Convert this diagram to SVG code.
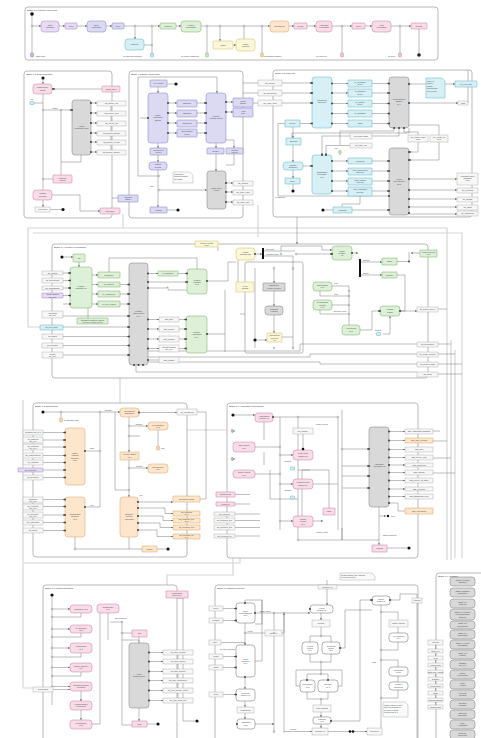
<svg xmlns="http://www.w3.org/2000/svg" width="481" height="738" viewBox="0 0 481 738">
<defs>
<marker id="a" viewBox="0 0 4 4" refX="4" refY="2" markerUnits="userSpaceOnUse" markerWidth="1.8" markerHeight="1.8" orient="auto"><path d="M0,0L4,2L0,4z" fill="#555"/></marker>
<style>
text{font-family:"Liberation Sans",Arial,sans-serif;font-size:2px;fill:#444;text-anchor:middle}
.l{text-anchor:start}
.ti{font-size:2.4px;fill:#333;text-anchor:start}
.fr{fill:#fff;stroke:#8c8c8c;stroke-width:.6}
.e{fill:none;stroke:#6b6b6b;stroke-width:.45}
.ea{fill:none;stroke:#6b6b6b;stroke-width:.45;marker-end:url(#a)}
.o{fill:none;stroke:#d6d6d6;stroke-width:1.2}
.pu{fill:#e7dcf3;stroke:#9b7fc0;stroke-width:.5}
.bp{fill:#dcdaf3;stroke:#7f7bc4;stroke-width:.5}
.gr{fill:#dff0d8;stroke:#6fae5f;stroke-width:.5}
.cy{fill:#d6f0f5;stroke:#5fb0c2;stroke-width:.5}
.ye{fill:#fbf7d8;stroke:#cbbf62;stroke-width:.5}
.or{fill:#fde6cc;stroke:#d8a060;stroke-width:.5}
.pk{fill:#f8dde8;stroke:#c9799b;stroke-width:.5}
.gy{fill:#d9d9d9;stroke:#7a7a7a;stroke-width:.5}
.bx{fill:#f7f7f7;stroke:#a0a0a0;stroke-width:.4}
.wh{fill:#fff;stroke:#666;stroke-width:.5}
.nt{fill:#fafafa;stroke:#999;stroke-width:.4}
.p{fill:#333}
.j{fill:#fff;stroke:#666;stroke-width:.4}
.k{fill:#111}
.bar{fill:#111}
</style>
</defs>
<rect width="481" height="738" fill="#fff"/>

<g id="outer-connectors">
<path class="o" d="M447,228 H28 V327 H40"/>
<path class="o" d="M447,228 V560"/>
<path class="o" d="M33,233 H462 V558"/>
<path class="o" d="M258,205 V237"/>
<path class="o" d="M123,214 V228"/>
<path class="o" d="M120,378 V403"/>
<path class="o" d="M451,340 V560 M455,350 V558"/>
<path class="o" d="M23,400 V688 H33"/>
<path class="o" d="M23,563 H240 V558"/>
<path class="o" d="M233,558 V575 H167 V585"/>
<path class="o" d="M187,430 H227"/>
</g>

<g id="stage-1-0">
<rect class="fr" x="25" y="7" width="413" height="53" rx="3"/>
<text class="ti" x="27" y="11">Stage 1.0 Pipeline Overview</text>
</g>
<g id="stage-1-1">
<rect class="fr" x="24" y="71" width="88" height="147" rx="3"/>
<text class="ti" x="26" y="75">Stage 1.1 Data Ingestion</text>
</g>
<g id="stage-1-2">
<rect class="fr" x="129" y="71" width="114" height="147" rx="3"/>
<text class="ti" x="131" y="75">Stage 1.2 Entity Resolution</text>
</g>
<g id="stage-1-3">
<rect class="fr" x="273" y="70" width="199" height="147" rx="3"/>
<text class="ti" x="275" y="74">Stage 1.3 Indexing</text>
</g>
<g id="stage-1-4">
<rect class="fr" x="52" y="244" width="376" height="134" rx="3"/>
<text class="ti" x="54" y="248">Stage 1.4 Feature Processing</text>
</g>
<g id="stage-1-5">
<rect class="fr" x="33" y="403" width="154" height="154" rx="3"/>
<text class="ti" x="35" y="407">Stage 1.5 Enrichment</text>
</g>
<g id="stage-1-6">
<rect class="fr" x="227" y="403" width="191" height="155" rx="3"/>
<text class="ti" x="229" y="407">Stage 1.6 Aggregate Processing</text>
</g>
<g id="stage-1-7">
<rect class="fr" x="43" y="585" width="134" height="160" rx="3"/>
<text class="ti" x="45" y="589">Stage 1.7 Post Processing</text>
</g>
<g id="stage-1-8">
<rect class="fr" x="215" y="585" width="203" height="160" rx="3"/>
<text class="ti" x="217" y="589">Stage 1.8 Search Pipeline</text>
</g>
<g id="stage-1-9">
<rect class="fr" x="436" y="573" width="60" height="170" rx="3"/>
<text class="ti" x="438" y="577">Stage 1.9 Glossary</text>
</g>
<g id="inner-frame-1-4">
<rect class="fr" x="245" y="262" width="58" height="91" rx="2"/>
</g>

<g id="connectors">
<path class="ea" d="M297,217 V244"/>
<!-- stage 1.0 -->
<path class="e" d="M32,14 V55"/>
<path class="ea" d="M32,26 H41"/><path class="ea" d="M59,26 H65"/><path class="ea" d="M77,26 H87"/><path class="ea" d="M106,26 H112"/>
<path class="ea" d="M124,26 H160"/><path class="ea" d="M176,26 H181"/><path class="ea" d="M201,26 H270"/><path class="ea" d="M289,26 H294"/>
<path class="ea" d="M307,26 H316"/><path class="ea" d="M332,26 H352"/><path class="ea" d="M365,26 H372"/><path class="ea" d="M391,26 H411"/>
<path class="ea" d="M135,26 V39"/><path class="e" d="M144,45 H152"/><path class="e" d="M152,26 V55"/><path class="e" d="M207,26 V55"/>
<path class="ea" d="M220,26 V41"/><path class="ea" d="M233,45 H236"/><path class="e" d="M244,26 V39"/><path class="e" d="M262,26 V55"/>
<path class="e" d="M342,26 V55"/><path class="e" d="M400,26 V55"/><path class="e" d="M419,29 V55"/>
<!-- stage 1.1 -->
<path class="ea" d="M43,78 V84"/><path class="e" d="M43,94 V190"/><path class="ea" d="M102,89 H53"/>
<path class="ea" d="M43,110 H72"/><path class="e" d="M61,110 V162 H81 V155"/><path class="e" d="M34,103 H43"/>
<path class="ea" d="M91,103 H97"/><path class="ea" d="M91,113 H97"/><path class="ea" d="M91,123 H97"/><path class="ea" d="M91,133 H97"/><path class="ea" d="M91,142 H97"/><path class="ea" d="M91,152 H97"/>
<path class="e" d="M111,106 V111 M111,116 V121 M111,126 V131 M111,136 V140 M111,145 V150"/>
<path class="e" d="M61,162 V175"/><path class="e" d="M53,179 H43"/><path class="ea" d="M43,200 V207"/><path class="e" d="M50,209.5 H62"/>
<path class="ea" d="M52,195 H80 V211 H100"/><path class="e" d="M118,198 H112"/>
<!-- stage 1.2 -->
<path class="ea" d="M138,176 V77 H217 V93"/><path class="e" d="M138,176 H159"/><path class="e" d="M175,84 H167"/><path class="ea" d="M158,87 V93"/>
<path class="ea" d="M168,103 H177"/><path class="ea" d="M197,103 H206"/><path class="ea" d="M168,113 H177"/><path class="ea" d="M197,113 H206"/>
<path class="ea" d="M168,123 H177"/><path class="ea" d="M197,123 H206"/><path class="ea" d="M168,133 H177"/><path class="ea" d="M197,133 H206"/>
<path class="ea" d="M226,102 H233"/><path class="ea" d="M226,112 H233"/><path class="e" d="M148,118 H140"/>
<path class="ea" d="M158,143 V148"/><path class="ea" d="M158,155 V162"/><path class="ea" d="M158,170 V207"/>
<path class="ea" d="M216,143 V148"/><path class="ea" d="M224,140 H234 V148"/><path class="ea" d="M216,154 V171"/><path class="e" d="M234,154 V165 H226"/>
<path class="ea" d="M226,183 H233"/><path class="ea" d="M226,192 H233"/><path class="ea" d="M226,202 H233"/>
<path class="ea" d="M159,190 H207"/><path class="e" d="M167,210 H177"/>
<path class="e" d="M243,83 H258 M243,93 H258 M243,103 H258"/>
<!-- stage 1.3 -->
<path class="ea" d="M282,83 H312"/><path class="ea" d="M282,93 H312"/><path class="ea" d="M282,103 H312"/>
<path class="ea" d="M332,83.5 H348"/><path class="ea" d="M372,83.5 H389"/><path class="ea" d="M332,93 H348"/><path class="ea" d="M372,93 H389"/>
<path class="ea" d="M332,103.5 H348"/><path class="ea" d="M372,103.5 H389"/><path class="ea" d="M332,113.5 H348"/><path class="ea" d="M372,113.5 H389"/>
<path class="ea" d="M332,123.5 H348"/><path class="ea" d="M372,123.5 H389"/>
<path class="e" d="M409,84 H426"/><path class="ea" d="M445,84 H455"/><path class="ea" d="M409,103 H458"/><path class="e" d="M468,103 V70"/>
<path class="ea" d="M300,123.5 H312"/><path class="ea" d="M293,127 V138"/><path class="ea" d="M293,145 V162"/><path class="ea" d="M293,170 V178"/><path class="e" d="M293,184 V190"/>
<path class="ea" d="M303,166 H312"/><path class="e" d="M285,123.5 H278 V196 H389"/>
<path class="e" d="M399,128 V136 H372"/><path class="e" d="M394,128 V131 H340 V145"/><path class="ea" d="M350,136 H322 V155"/><path class="ea" d="M350,145.5 H326 V155"/>
<path class="e" d="M404,128 V132 H418 V135"/><path class="e" d="M409,125 H439 V135"/><path class="ea" d="M418,142 V152 H409"/><path class="ea" d="M439,142 V160 H409"/>
<path class="ea" d="M332,161 H348"/><path class="ea" d="M372,161 H389"/><path class="ea" d="M332,171 H348"/><path class="ea" d="M372,171 H389"/>
<path class="ea" d="M332,181 H348"/><path class="ea" d="M372,181 H389"/><path class="ea" d="M332,191 H348"/><path class="ea" d="M372,191 H389"/>
<path class="ea" d="M409,179 H457"/><path class="ea" d="M409,190 H457"/><path class="ea" d="M409,199 H457"/><path class="ea" d="M409,207 H457"/><path class="ea" d="M409,214 H457"/>
<path class="ea" d="M352,210 H389"/><path class="e" d="M325,210 H333"/><path class="e" d="M360,196 V204 H342 V207"/>
<path class="e" d="M292,138 V133 H409 V128"/><path class="e" d="M340,150 V155"/>
<!-- stage 1.4 -->
<path class="ea" d="M64,257 H73"/><path class="ea" d="M79,262 V267"/>
<path class="ea" d="M63,273 H70"/><path class="ea" d="M63,280.5 H70"/><path class="ea" d="M63,288 H70"/><path class="ea" d="M63,295.5 H70"/><path class="e" d="M63,304 H70"/>
<path class="ea" d="M92,275 H98"/><path class="ea" d="M92,284.5 H98"/><path class="ea" d="M92,294 H98"/><path class="ea" d="M92,304 H98"/>
<path class="ea" d="M120,284.5 H129"/><path class="ea" d="M120,294 H129"/><path class="ea" d="M120,304 H129"/><path class="e" d="M109,272 V258 H197 V269"/>
<path class="ea" d="M63,316 H129"/><path class="ea" d="M63,327 H129"/><path class="ea" d="M63,336.5 H129"/><path class="ea" d="M63,345.5 H129"/><path class="ea" d="M63,355 H129"/>
<path class="ea" d="M148,273.5 H158"/><path class="ea" d="M178,273.5 H187"/><path class="ea" d="M148,282 H187"/>
<path class="ea" d="M148,319.5 H159"/><path class="ea" d="M179,319.5 H186"/><path class="ea" d="M148,329 H159"/><path class="ea" d="M179,329 H186"/>
<path class="ea" d="M148,339 H159"/><path class="ea" d="M179,339 H186"/><path class="ea" d="M148,348.5 H159"/><path class="ea" d="M179,348.5 H186"/><path class="e" d="M148,360 H159"/>
<path class="e" d="M148,288 H167 V287 H168 V290 H197 V283"/><path class="e" d="M88,308 V318"/>
<path class="e" d="M207,281 H228 V262 H236"/><path class="e" d="M207,334 H225 V352"/><path class="e" d="M225,334 V290"/>
<path class="e" d="M218,247 V251"/><path class="ea" d="M255,254 H262"/><path class="e" d="M264,251 H295 M264,256 H293 V270"/>
<path class="ea" d="M296,254 H332"/><path class="ea" d="M281,251 V246 H322 V250 H332"/><path class="e" d="M238,260 V282"/>
<path class="e" d="M255,268 V348 M293,268 V348"/><path class="ea" d="M274,268 V283"/><path class="ea" d="M274,291 V306"/><path class="ea" d="M274,315 V333"/><path class="ea" d="M255,340 H267"/>
<path class="e" d="M293,337 H282"/><path class="e" d="M245,314 H240"/>
<path class="ea" d="M352,253 H358"/><path class="ea" d="M361,262 H382"/><path class="ea" d="M361,275 H382"/><path class="e" d="M397,261.5 H409 V252"/>
<path class="e" d="M397,275 H405 V311 H400"/><path class="ea" d="M437,253 H411"/>
<path class="e" d="M332,286 H349 V325"/><path class="e" d="M332,305 H349"/><path class="e" d="M320,291 V296 H349 M320,310 V314 H349"/>
<path class="ea" d="M360,330 H372 V311 H380"/><path class="ea" d="M383,334 H390 V316"/>
<path class="ea" d="M400,311 H417"/><path class="e" d="M148,351 H300 V344 H417"/><path class="e" d="M148,357 H310 V354 H417"/><path class="e" d="M148,362 H320 V364 H417"/><path class="e" d="M136,365 V372 H417"/>
<path class="e" d="M438,309 H447 M438,344 H451 M438,354 H455 M438,364 H462 M438,374 H462"/>
<!-- stage 1.5 -->
<path class="ea" d="M45,412 H120"/><path class="e" d="M61,412 V418"/><path class="e" d="M100,412 V451 H85"/>
<path class="ea" d="M139,412.5 H177"/><path class="ea" d="M129,417 V452"/><path class="ea" d="M129,460 V497"/>
<path class="ea" d="M129,426 H148"/><path class="e" d="M158,430 V446"/><path class="ea" d="M129,468 H148"/><path class="e" d="M129,436 H140"/>
<path class="ea" d="M43,432.5 H65"/><path class="ea" d="M43,440 H65"/><path class="ea" d="M43,447 H65"/><path class="ea" d="M43,455.5 H65"/><path class="ea" d="M43,462.5 H65"/><path class="ea" d="M43,470 H65"/><path class="ea" d="M43,477.5 H65"/>
<path class="ea" d="M43,499.5 H65"/><path class="ea" d="M43,506.5 H65"/><path class="ea" d="M43,515 H65"/><path class="ea" d="M43,522.5 H65"/><path class="ea" d="M43,530.5 H65"/>
<path class="e" d="M85,507 H100 V451"/><path class="e" d="M115,412 V490 H129"/>
<path class="ea" d="M138,502 H173"/><path class="ea" d="M138,508 H165 V513.5 H173"/><path class="ea" d="M138,516 H163 V520.5 H173"/><path class="ea" d="M138,523 H160 V527.5 H173"/><path class="ea" d="M138,530 H157 V536.5 H173"/>
<path class="e" d="M75,537 V549 H142"/><path class="e" d="M129,537 V549"/><path class="e" d="M157,549 H166"/>
<path class="e" d="M200,499 H206 V412 H197"/>
<!-- stage 1.6 -->
<path class="ea" d="M235,415 H255"/><path class="e" d="M273,417 H338"/><path class="e" d="M264,422 V440 M264,452 V465"/>
<path class="e" d="M255,447 H280 M255,474 H280 M280,417 V530"/><path class="e" d="M298,417 V540"/><path class="ea" d="M303,434 V450"/>
<path class="ea" d="M280,455 H293"/><path class="ea" d="M280,484 H293"/><path class="ea" d="M280,521 H293"/><path class="e" d="M313,455 H298 M313,484 H338"/>
<path class="e" d="M338,417 V530 M342,410 V540"/><path class="ea" d="M313,521 H323"/><path class="e" d="M329,508 V470 H298"/>
<path class="ea" d="M342,449 H369"/><path class="ea" d="M342,466 H369"/><path class="ea" d="M342,476 H369"/><path class="ea" d="M342,488 H369"/>
<path class="ea" d="M389,431.5 H405"/><path class="ea" d="M389,440.5 H405"/><path class="ea" d="M389,449.5 H405"/><path class="ea" d="M389,457.5 H405"/><path class="ea" d="M389,465 H405"/>
<path class="ea" d="M389,472.5 H405"/><path class="ea" d="M389,480.5 H405"/><path class="ea" d="M389,489 H405"/><path class="ea" d="M389,496.5 H405"/><path class="e" d="M389,503 H398 V511 H405"/>
<path class="ea" d="M379,507 V545"/><path class="e" d="M387,548 H407"/><path class="ea" d="M379,516 H386"/><path class="e" d="M298,540 H379"/><path class="e" d="M342,540 V528"/>
<path class="e" d="M235,494.5 H250 M235,504 H250 M235,514 H260 M235,520.5 H260 M235,527.5 H260 M235,536 H260"/>
<path class="e" d="M433,431 H440 M433,441 H447 M433,458 H451 M433,473 H455"/>
<path class="e" d="M302,520 V470 H310 M270,499 H298 M270,470 V499"/>
<!-- stage 1.7 -->
<path class="e" d="M52,595 V705"/>
<path class="ea" d="M52,609 H70"/><path class="ea" d="M52,629 H70"/><path class="ea" d="M52,648 H70"/><path class="ea" d="M52,667.5 H70"/><path class="ea" d="M52,686.5 H70"/>
<path class="e" d="M81,613 V617 H52 M81,633 V637 H52 M81,653 V657 H52 M81,672 V676 H52"/>
<path class="ea" d="M81,691 V701"/><path class="ea" d="M81,710 V720"/><path class="e" d="M92,724 H100 V613"/>
<path class="e" d="M108,613 V640 M110,622 H122 V725 H132 M122,640 H139 V643 M122,633 H132 M147,633 H139 V643"/>
<path class="ea" d="M149,652.5 H163"/><path class="ea" d="M149,661.5 H163"/><path class="ea" d="M149,671.5 H163"/><path class="ea" d="M149,680.5 H163"/><path class="ea" d="M149,690.5 H163"/><path class="ea" d="M149,700.5 H163"/>
<path class="e" d="M178,655 V659 M178,664 V669 M178,674 V678 M178,683 V688 M178,693 V698"/>
<path class="ea" d="M139,708 V721"/><path class="e" d="M147,724 H156"/><path class="e" d="M177,598 H183 V721 H195"/>
<path class="ea" d="M53,689.5 H70"/>
<!-- stage 1.8 -->
<path class="e" d="M327,580 V585"/><path class="ea" d="M327,589 V605"/>
<path class="ea" d="M223,608.5 H236"/><path class="ea" d="M223,620.5 H236"/><path class="ea" d="M223,656.5 H236"/><path class="ea" d="M223,667.5 H236"/><path class="ea" d="M223,694.5 H236"/>
<path class="e" d="M221,642.5 H245 V645"/><path class="e" d="M245,600 H262 V624 H255 M245,600 V603"/>
<path class="ea" d="M255,613 H310"/><path class="ea" d="M245,623 V645"/><path class="e" d="M245,633 H265"/><path class="ea" d="M282,633 H284 V613"/>
<path class="e" d="M274,613 V733 M284,613 V733"/><path class="e" d="M255,661 H262 V600"/><path class="ea" d="M245,677 V689"/>
<path class="ea" d="M245,701 V707"/><path class="ea" d="M245,713 V719"/><path class="ea" d="M255,724 H274"/>
<path class="ea" d="M321,613 V620"/><path class="e" d="M321,627 V636 H310 V642 M321,636 H331 V642"/>
<path class="e" d="M310,654 V662 H331 V654 M321,662 V674 H307 V680 M321,674 H328 V680"/>
<path class="e" d="M307,692 V699 H328 V692 M321,699 V705"/><path class="ea" d="M321,712 V717"/><path class="ea" d="M321,724 V728"/>
<path class="ea" d="M284,731.5 H312"/><path class="ea" d="M328,731.5 H367"/><path class="e" d="M300,686 H296 V670 H342 V686 H338"/>
<path class="e" d="M340,648 H345 V610 H372"/><path class="ea" d="M331,721 H360 V600 H372"/>
<path class="e" d="M381,605 V728 M381,612 H398 V620 M398,627 V633 M398,642 V650 H381 M381,660 H398 V667 M398,676 V682 M398,690 V698 H381"/>
<path class="e" d="M390,600 H400 V594 H417 V598"/><path class="e" d="M417,603 V740"/>
</g>

<g id="n-start" class="k"><circle cx="32" cy="14" r="1.8"/></g>
<g id="n-junctions-1-0">
<circle class="j" cx="135" cy="26" r=".9"/><circle class="j" cx="152" cy="26" r=".9"/><circle class="j" cx="207" cy="26" r=".9"/><circle class="j" cx="220" cy="26" r=".9"/>
<circle class="j" cx="244" cy="26" r=".9"/><circle class="j" cx="262" cy="26" r=".9"/><circle class="j" cx="342" cy="26" r=".9"/><circle class="j" cx="400" cy="26" r=".9"/><circle class="j" cx="32" cy="26" r=".9"/><circle class="j" cx="152" cy="45" r=".9"/>
</g>
<g id="n-ingestion"><rect class="pu" x="41" y="21" width="18" height="11" rx="3"/><text x="50" y="26">Data</text><text x="50" y="28.4">Ingestion</text></g>
<g id="n-parse"><rect class="pu" x="65" y="23" width="12" height="6" rx="1"/><text x="71" y="26.7">Parse</text></g>
<g id="n-schema"><rect class="bp" x="87" y="21" width="19" height="11" rx="3"/><text x="96.5" y="26">Entity</text><text x="96.5" y="28.4">Resolution</text></g>
<g id="n-enrich"><rect class="bp" x="112" y="23" width="12" height="6" rx="1"/><text x="118" y="26.7">Index</text></g>
<g id="n-normalize"><rect class="cy" x="125" y="39" width="19" height="11" rx="3"/><text x="134.5" y="45.2">Indexing</text></g>
<g id="n-features"><rect class="gr" x="160" y="23" width="16" height="6" rx="1"/><text x="168" y="26.7">Features</text></g>
<g id="n-feature-eng"><rect class="gr" x="181" y="21" width="20" height="11" rx="3"/><text x="191" y="26">Feature</text><text x="191" y="28.4">Processing</text></g>
<g id="n-model"><rect class="ye" x="213" y="41" width="20" height="8" rx="1"/><text x="223" y="45.7">Model</text></g>
<g id="n-model-training"><rect class="ye" x="236" y="39" width="19" height="12" rx="3"/><text x="245.5" y="44.5">Model</text><text x="245.5" y="46.9">Training</text></g>
<g id="n-enrichment"><rect class="or" x="270" y="21" width="19" height="11" rx="3"/><text x="279.5" y="27.2">Enrichment</text></g>
<g id="n-export"><rect class="pk" x="294" y="23" width="13" height="6" rx="1"/><text x="300.5" y="26.7">Export</text></g>
<g id="n-aggregate"><rect class="pk" x="316" y="21" width="16" height="11" rx="3"/><text x="324" y="26">Aggregate</text><text x="324" y="28.4">Processing</text></g>
<g id="n-serve"><rect class="pk" x="352" y="23" width="13" height="6" rx="1"/><text x="358.5" y="26.7">Serve</text></g>
<g id="n-post"><rect class="pk" x="372" y="21" width="19" height="11" rx="3"/><text x="381.5" y="26">Post</text><text x="381.5" y="28.4">Processing</text></g>
<g id="n-done"><rect class="pk" x="411" y="23" width="16" height="6" rx="1"/><text x="419" y="26.7">Search</text></g>
<g id="n-terminators-1-0">
<rect x="30.5" y="53" width="3" height="4" rx=".8" fill="#c9b3e0" stroke="#8a6fb0" stroke-width=".4"/>
<rect x="150.5" y="53" width="3" height="4" rx=".8" fill="#bfe6ee" stroke="#5fb0c2" stroke-width=".4"/>
<rect x="205.5" y="53" width="3" height="4" rx=".8" fill="#cbe6c1" stroke="#6fae5f" stroke-width=".4"/>
<rect x="260.5" y="53" width="3" height="4" rx=".8" fill="#f7d1a8" stroke="#d8a060" stroke-width=".4"/>
<rect x="340.5" y="53" width="3" height="4" rx=".8" fill="#f1c3d6" stroke="#c9799b" stroke-width=".4"/>
<rect x="398.5" y="53" width="3" height="4" rx=".8" fill="#f1c3d6" stroke="#c9799b" stroke-width=".4"/>
<circle cx="419" cy="55" r="1.8" fill="#222"/>
<text class="l" x="36" y="56.5">data ready</text>
<text class="l" x="123" y="56.5">on indexing complete</text>
<text class="l" x="181" y="56.5">on model registered</text>
<text class="l" x="264" y="56.5">enrichment finished</text>
<text class="l" x="316" y="56.5">on report ok</text>
<text class="l" x="388" y="56.5">on serve</text>
</g>

<!-- stage 1.1 nodes -->
<g id="n11-start" class="k"><circle cx="43" cy="78" r="1.6"/></g>
<g id="n11-load"><rect class="pk" x="33" y="84" width="19" height="10" rx="3"/><text x="42.5" y="88.4">Load Source</text><text x="42.5" y="90.8">Config</text></g>
<g id="n11-config"><rect class="pk" x="102" y="86" width="18" height="6" rx="1"/><text x="111" y="89.6">Config Store</text></g>
<g id="n11-file"><rect class="cy" x="30" y="101.5" width="4" height="3" rx=".6"/><text x="32" y="100">file</text><circle class="p" cx="53" cy="89" r=".9"/></g>
<g id="n11-connector"><rect class="gy" x="72" y="100" width="19" height="55" rx="3"/><text x="81.5" y="126.5">Ingest</text><text x="81.5" y="128.9">Connector Pool</text>
<circle class="p" cx="91" cy="103" r=".9"/><circle class="p" cx="91" cy="113" r=".9"/><circle class="p" cx="91" cy="123" r=".9"/><circle class="p" cx="91" cy="133" r=".9"/><circle class="p" cx="91" cy="142" r=".9"/><circle class="p" cx="91" cy="152" r=".9"/><circle class="p" cx="72" cy="110" r=".9"/></g>
<g id="n11-outputs">
<rect class="bx" x="97" y="101" width="29" height="5"/><text x="111.5" y="104.2">ds_source_api</text>
<rect class="bx" x="97" y="111" width="29" height="5"/><text x="111.5" y="114.2">ds_source_files</text>
<rect class="bx" x="97" y="121" width="29" height="5"/><text x="111.5" y="124.2">ds_source_db</text>
<rect class="bx" x="97" y="131" width="29" height="5"/><text x="111.5" y="134.2">ds_source_stream</text>
<rect class="bx" x="97" y="140" width="29" height="5"/><text x="111.5" y="143.2">ds_source_events</text>
<rect class="bx" x="97" y="150" width="29" height="5"/><text x="111.5" y="153.2">ds_source_archive</text>
</g>
<g id="n11-schema"><rect class="pk" x="53" y="175" width="19" height="8" rx="1"/><text x="62.5" y="178.5">Schema</text><text x="62.5" y="180.9">Check</text></g>
<g id="n11-validate"><rect class="pk" x="33" y="190" width="19" height="10" rx="3"/><text x="42.5" y="194.4">Validate</text><text x="42.5" y="196.8">Records</text></g>
<g id="n11-write"><rect class="bx" x="35" y="207" width="15" height="5"/><text x="42.5" y="210.2">Write Raw</text><circle class="k" cx="63" cy="209.5" r="1.6"/></g>
<g id="n11-raw"><rect class="pk" x="100" y="208" width="20" height="6" rx="1"/><text x="110" y="211.7">Raw Zone</text></g>
<g id="n11-batch"><rect class="bp" x="118" y="195" width="20" height="7" rx=".5"/><text x="128" y="198">Validated</text><text x="128" y="200.4">Batch</text></g>
<g id="n11-j"><circle class="j" cx="43" cy="110" r=".9"/><circle class="j" cx="61" cy="110" r=".9"/><circle class="j" cx="43" cy="179" r=".9"/><text x="55" y="108.5">batch</text></g>

<!-- stage 1.2 nodes -->
<g id="n12-key"><rect class="bp" x="150" y="80" width="17" height="7" rx=".5"/><text x="158.5" y="84.2">Key Config</text><circle class="k" cx="176" cy="84" r="1.6"/></g>
<g id="n12-engine"><rect class="bp" x="148" y="93" width="20" height="50" rx="3"/><text x="158" y="116">Entity</text><text x="158" y="118.4">Resolution</text><text x="158" y="120.8">Engine</text>
<circle class="p" cx="168" cy="103" r=".9"/><circle class="p" cx="168" cy="113" r=".9"/><circle class="p" cx="168" cy="123" r=".9"/><circle class="p" cx="168" cy="133" r=".9"/><circle class="p" cx="148" cy="118" r=".9"/></g>
<g id="n12-graph"><rect class="bp" x="206" y="93" width="20" height="50" rx="3"/><text x="216" y="117">Record</text><text x="216" y="119.4">Linkage Graph</text>
<circle class="p" cx="206" cy="103" r=".9"/><circle class="p" cx="206" cy="113" r=".9"/><circle class="p" cx="206" cy="123" r=".9"/><circle class="p" cx="206" cy="133" r=".9"/><circle class="p" cx="226" cy="102" r=".9"/><circle class="p" cx="226" cy="112" r=".9"/></g>
<g id="n12-mid">
<rect class="bp" x="177" y="100" width="20" height="7" rx=".5"/><text x="187" y="104.2">Blocking</text>
<rect class="bp" x="177" y="110" width="20" height="7" rx=".5"/><text x="187" y="114.2">Matching</text>
<rect class="bp" x="177" y="120" width="20" height="7" rx=".5"/><text x="187" y="124.2">Clustering</text>
<rect class="bp" x="177" y="129" width="20" height="8" rx=".5"/><text x="187" y="132.4">Survivorship</text><text x="187" y="134.8">Rules</text>
</g>
<g id="n12-right">
<rect class="bp" x="233" y="98" width="20" height="9" rx=".5"/><text x="243" y="102">Merge</text><text x="243" y="104.4">Output</text>
<rect class="bp" x="233" y="108" width="20" height="9" rx=".5"/><text x="243" y="112">Audit</text><text x="243" y="114.4">Trail</text>
</g>
<g id="n12-unresolved"><rect class="bp" x="150" y="148" width="17" height="7" rx=".5"/><text x="158.5" y="151">Unresolved</text><text x="158.5" y="153.4">Queue</text></g>
<g id="n12-review"><rect class="bp" x="149" y="162" width="18" height="8" rx="3"/><text x="158" y="165.4">Manual</text><text x="158" y="167.8">Review</text></g>
<g id="n12-golden"><rect class="bp" x="207" y="148" width="17" height="6" rx=".5"/><text x="215.5" y="151.7">Golden</text></g>
<g id="n12-conflicts"><rect class="bp" x="226" y="148" width="17" height="6" rx=".5"/><text x="234.5" y="150.5">Conflict</text><text x="234.5" y="152.9">Report</text></g>
<g id="n12-writer"><rect class="gy" x="207" y="171" width="19" height="38" rx="3"/><text x="216.5" y="189">Entity Store</text><text x="216.5" y="191.4">Writer</text>
<circle class="p" cx="226" cy="183" r=".9"/><circle class="p" cx="226" cy="192" r=".9"/><circle class="p" cx="226" cy="202" r=".9"/></g>
<g id="n12-outs">
<rect class="bx" x="233" y="181" width="20" height="5"/><text x="243" y="184.2">ds_entities</text>
<rect class="bx" x="233" y="190" width="20" height="5"/><text x="243" y="193.2">ds_entity_links</text>
<rect class="bx" x="233" y="200" width="20" height="5"/><text x="243" y="203.2">ds_entity_hist</text>
</g>
<g id="n12-note"><path class="nt" d="M173,172 H190 L193,175 V183 H173 Z"/><text class="l" x="174" y="175">Resolution</text><text class="l" x="174" y="177.4">metrics emitted</text><text class="l" x="174" y="179.8">per batch</text></g>
<g id="n12-publish"><rect class="bp" x="150" y="207" width="17" height="6" rx=".5"/><text x="158.5" y="210.7">Publish</text><circle class="k" cx="178" cy="210" r="1.6"/></g>
<g id="n12-j"><circle class="j" cx="159" cy="190" r=".9"/><circle class="j" cx="159" cy="176" r=".9"/><text x="152" y="187">retry</text></g>

<!-- stage 1.3 nodes -->
<g id="n13-inputs">
<rect class="bx" x="258" y="80" width="24" height="6"/><text x="270" y="83.7">ds_entities</text>
<rect class="bx" x="258" y="90" width="24" height="6"/><text x="270" y="93.7">ds_documents</text>
<rect class="bx" x="258" y="100" width="24" height="6"/><text x="270" y="103.7">ds_entity_links</text>
</g>
<g id="n13-tokenizer"><rect class="cy" x="312" y="77" width="20" height="51" rx="3"/><text x="322" y="101">Document</text><text x="322" y="103.4">Tokenizer</text>
<circle class="p" cx="312" cy="83" r=".9"/><circle class="p" cx="312" cy="93" r=".9"/><circle class="p" cx="312" cy="103" r=".9"/><circle class="p" cx="312" cy="123.5" r=".9"/>
<circle class="p" cx="332" cy="83.5" r=".9"/><circle class="p" cx="332" cy="93" r=".9"/><circle class="p" cx="332" cy="103.5" r=".9"/><circle class="p" cx="332" cy="113.5" r=".9"/><circle class="p" cx="332" cy="123.5" r=".9"/></g>
<g id="n13-mid1">
<rect class="cy" x="348" y="80" width="24" height="7" rx=".3"/><text x="360" y="82.9">tk_unigrams</text><text x="360" y="85.3">v2.1.0</text>
<rect class="cy" x="348" y="89" width="24" height="8" rx=".3"/><text x="360" y="92.4">tk_bigrams</text><text x="360" y="94.8">v2.1.0</text>
<rect class="cy" x="348" y="100" width="24" height="7" rx=".3"/><text x="360" y="102.9">tk_entities</text><text x="360" y="105.3">v2.1.0</text>
<rect class="cy" x="348" y="110" width="24" height="7" rx=".3"/><text x="360" y="114.2">tk_metadata</text>
<rect class="cy" x="348" y="120" width="24" height="7" rx=".3"/><text x="360" y="124.2">Stats</text>
</g>
<g id="n13-segment"><rect class="gy" x="389" y="77" width="20" height="51" rx="3"/><text x="399" y="100">Text Segment</text><text x="399" y="102.4">Builder</text><text x="399" y="104.8">v1.4</text>
<circle class="p" cx="389" cy="83.5" r=".9"/><circle class="p" cx="389" cy="93" r=".9"/><circle class="p" cx="389" cy="103.5" r=".9"/><circle class="p" cx="389" cy="113.5" r=".9"/><circle class="p" cx="389" cy="123.5" r=".9"/>
<circle class="p" cx="409" cy="84" r=".9"/><circle class="p" cx="409" cy="103" r=".9"/><circle class="p" cx="394" cy="128" r=".9"/><circle class="p" cx="399" cy="128" r=".9"/><circle class="p" cx="404" cy="128" r=".9"/></g>
<g id="n13-note"><path class="cy" d="M426,78 H442 L445,81 V98 H426 Z"/><text class="l" x="427" y="81.5">Index is</text><text class="l" x="427" y="84">rebuilt</text><text class="l" x="427" y="86.5">nightly,</text><text class="l" x="427" y="89">incremental</text><text class="l" x="427" y="91.5">every hour</text></g>
<g id="n13-idx"><rect class="cy" x="455" y="81" width="22" height="6" rx=".3"/><text x="466" y="84.7">idx_text_main</text></g>
<g id="n13-alias"><rect class="bx" x="458" y="101" width="10" height="4"/><text x="463" y="103.7">alias</text></g>
<g id="n13-queue"><rect class="cy" x="285" y="120" width="15" height="7" rx=".3"/><text x="292.5" y="124.2">Queue</text></g>
<g id="n13-backlog"><rect class="cy" x="286" y="138" width="15" height="7" rx=".3"/><text x="293.5" y="142.2">Backlog</text></g>
<g id="n13-throttle"><rect class="cy" x="283" y="162" width="20" height="8" rx="3"/><text x="293" y="165.5">Throttle</text><text x="293" y="167.9">Controller</text></g>
<g id="n13-retry"><rect class="cy" x="285" y="178" width="15" height="6" rx=".3"/><text x="292.5" y="181.7">Retry</text><circle class="k" cx="293" cy="191" r="1.6"/><text x="280" y="198">on backlog</text></g>
<g id="n13-embed"><rect class="cy" x="312" y="155" width="20" height="39" rx="3"/><text x="322" y="173">Embedding</text><text x="322" y="175.4">Generator</text><text x="322" y="177.8">v3.0</text>
<circle class="p" cx="332" cy="161" r=".9"/><circle class="p" cx="332" cy="171" r=".9"/><circle class="p" cx="332" cy="181" r=".9"/><circle class="p" cx="332" cy="191" r=".9"/><circle class="p" cx="312" cy="166" r=".9"/><circle class="p" cx="322" cy="155" r=".9"/><circle class="p" cx="326" cy="155" r=".9"/></g>
<g id="n13-mid2">
<rect class="cy" x="348" y="158" width="24" height="6" rx=".3"/><text x="360" y="161.7">Centroids</text>
<rect class="cy" x="348" y="168" width="24" height="7" rx=".3"/><text x="360" y="170.9">emb_documents</text><text x="360" y="173.3">dim 768</text>
<rect class="cy" x="348" y="178" width="24" height="7" rx=".3"/><text x="360" y="180.9">emb_entities</text><text x="360" y="183.3">dim 768</text>
<rect class="cy" x="348" y="187" width="24" height="9" rx=".3"/><text x="360" y="190.4">emb_passages</text><text x="360" y="192.8">dim 384</text>
</g>
<g id="n13-vector"><rect class="gy" x="389" y="148" width="20" height="67" rx="3"/><text x="399" y="180">Vector</text><text x="399" y="182.4">Index Builder</text><text x="399" y="184.8">v2.2</text>
<circle class="p" cx="389" cy="161" r=".9"/><circle class="p" cx="389" cy="171" r=".9"/><circle class="p" cx="389" cy="181" r=".9"/><circle class="p" cx="389" cy="191" r=".9"/><circle class="p" cx="389" cy="196" r=".9"/><circle class="p" cx="389" cy="210" r=".9"/>
<circle class="p" cx="409" cy="152" r=".9"/><circle class="p" cx="409" cy="160" r=".9"/><circle class="p" cx="409" cy="179" r=".9"/><circle class="p" cx="409" cy="190" r=".9"/><circle class="p" cx="409" cy="199" r=".9"/><circle class="p" cx="409" cy="207" r=".9"/><circle class="p" cx="409" cy="213" r=".9"/></g>
<g id="n13-mid3">
<rect class="bx" x="350" y="133" width="22" height="6"/><text x="361" y="136.7">Text index stats</text>
<rect class="bx" x="350" y="143" width="22" height="5"/><text x="361" y="146.2">ds_index_log</text>
</g>
<g id="n13-right">
<rect class="bx" x="408" y="135" width="20" height="7"/><text x="418" y="138">idx_vector_hnsw</text><text x="418" y="140.4">v2.2</text>
<rect class="bx" x="430" y="135" width="18" height="7"/><text x="439" y="138">idx_vector_ivf</text><text x="439" y="140.4">v2.2</text>
</g>
<g id="n13-circle"><circle cx="340" cy="152" r="1.5" fill="#cbe6c1" stroke="#6fae5f" stroke-width=".4"/><text x="336" y="149">cfg</text></g>
<g id="n13-compact"><rect class="cy" x="333" y="207" width="19" height="6" rx=".3"/><text x="342.5" y="210.7">Compact</text><circle class="k" cx="323" cy="210" r="1.6"/></g>
<g id="n13-outs">
<rect class="bx" x="457" y="173" width="21" height="12"/><text x="467.5" y="176.5">Published index</text><text x="467.5" y="178.9">snapshot</text><text x="467.5" y="181.3">v2.2</text>
<rect class="bx" x="457" y="188" width="21" height="5"/><text x="467.5" y="191.2">idx_manifest</text>
<rect class="bx" x="457" y="197" width="21" height="5"/><text x="467.5" y="200.2">idx_shards</text>
<rect class="bx" x="457" y="205" width="21" height="5"/><text x="467.5" y="208.2">idx_stats</text>
<rect class="bx" x="457" y="211" width="21" height="5"/><text x="467.5" y="214.2">idx_changelog</text>
</g>

<!-- stage 1.4 nodes -->
<g id="n14-start"><circle class="k" cx="62" cy="257" r="1.6"/></g>
<g id="n14-init"><rect class="gr" x="73" y="254" width="12" height="8" rx=".5"/><text x="79" y="258.7">Init</text></g>
<g id="n14-cfg"><rect class="ye" x="195" y="241" width="23" height="6" rx=".3"/><text x="206.5" y="243.5">Feature Config</text><text x="206.5" y="245.8">v1.2</text></g>
<g id="n14-inputs">
<rect class="bx" x="42" y="271" width="21" height="4"/><text x="52.5" y="273.7">ds_entities</text>
<rect class="bx" x="42" y="278" width="21" height="5"/><text x="52.5" y="281.2">ds_documents</text>
<rect class="bx" x="42" y="286" width="21" height="4"/><text x="52.5" y="288.7">ds_embeddings</text>
<rect class="pu" x="42" y="293" width="21" height="5" rx=".3"/><text x="52.5" y="295.3">Merge Output</text><text x="52.5" y="297.5">ds_v1.2</text>
<rect class="bx" x="42" y="311" width="21" height="7"/><text x="52.5" y="314">Aggregate</text><text x="52.5" y="316.4">ds_v1.0</text>
<rect class="cy" x="40" y="325" width="23" height="5" rx=".3"/><text x="51.5" y="328.2">idx_text_main</text>
<rect class="bx" x="42" y="334" width="21" height="5"/><text x="52.5" y="337.2">ds_labels</text>
<rect class="bx" x="42" y="343" width="21" height="5"/><text x="52.5" y="346.2">ds_calendar</text>
<rect class="bx" x="42" y="352" width="21" height="6"/><text x="52.5" y="354.5">Holiday</text><text x="52.5" y="356.8">ds_v1.0</text>
</g>
<g id="n14-extractor"><rect class="gr" x="70" y="267" width="22" height="41" rx="3"/><text x="81" y="286.5">Feature</text><text x="81" y="288.9">Extractor v2</text>
<circle class="p" cx="70" cy="273" r=".9"/><circle class="p" cx="70" cy="280.5" r=".9"/><circle class="p" cx="70" cy="288" r=".9"/><circle class="p" cx="70" cy="295.5" r=".9"/><circle class="p" cx="70" cy="304" r=".9"/></g>
<g id="n14-gboxes">
<rect class="gr" x="98" y="272" width="22" height="6" rx=".3"/><text x="109" y="275.7">Normalize</text>
<rect class="gr" x="98" y="282" width="22" height="5" rx=".3"/><text x="109" y="285.2">fe_numeric</text>
<rect class="gr" x="98" y="291" width="22" height="6" rx=".3"/><text x="109" y="294.7">fe_categorical</text>
<rect class="gr" x="98" y="301" width="22" height="6" rx=".3"/><text x="109" y="304.7">fe_text_vectors</text>
</g>
<g id="n14-note"><rect class="gr" x="77" y="318" width="31" height="6" rx=".3"/><text x="92.5" y="320.5">Extracted features cached</text><text x="92.5" y="322.8">for 24h in feature store</text></g>
<g id="n14-store"><rect class="gy" x="129" y="263" width="19" height="102" rx="3"/><text x="138.5" y="312">Feature</text><text x="138.5" y="314.4">Store Writer</text><text x="138.5" y="316.8">v1.4</text>
<circle class="p" cx="129" cy="284.5" r=".9"/><circle class="p" cx="129" cy="294" r=".9"/><circle class="p" cx="129" cy="304" r=".9"/><circle class="p" cx="129" cy="316" r=".9"/><circle class="p" cx="129" cy="327" r=".9"/><circle class="p" cx="129" cy="336.5" r=".9"/><circle class="p" cx="129" cy="345.5" r=".9"/><circle class="p" cx="129" cy="355" r=".9"/>
<circle class="p" cx="148" cy="273.5" r=".9"/><circle class="p" cx="148" cy="282" r=".9"/><circle class="p" cx="148" cy="288" r=".9"/><circle class="p" cx="148" cy="319.5" r=".9"/><circle class="p" cx="148" cy="329" r=".9"/><circle class="p" cx="148" cy="339" r=".9"/><circle class="p" cx="148" cy="348.5" r=".9"/><circle class="p" cx="148" cy="360" r=".9"/>
<circle class="p" cx="134" cy="365" r=".9"/><circle class="p" cx="138.5" cy="365" r=".9"/><circle class="p" cx="143" cy="365" r=".9"/></g>
<g id="n14-fs"><rect class="gr" x="158" y="271" width="20" height="5" rx=".3"/><text x="168" y="274.2">fs_snapshot</text></g>
<g id="n14-validator"><rect class="gr" x="187" y="269" width="20" height="25" rx="3"/><text x="197" y="280.5">Feature</text><text x="197" y="282.9">Validator</text><text x="197" y="285.3">v1.1</text>
<circle class="p" cx="187" cy="273.5" r=".9"/><circle class="p" cx="187" cy="282" r=".9"/><circle class="p" cx="207" cy="281" r=".9"/></g>
<g id="n14-aggregator"><rect class="gr" x="186" y="316" width="21" height="37" rx="3"/><text x="196.5" y="333">Feature</text><text x="196.5" y="335.4">Aggregator</text><text x="196.5" y="337.8">v1.0</text>
<circle class="p" cx="186" cy="319.5" r=".9"/><circle class="p" cx="186" cy="329" r=".9"/><circle class="p" cx="186" cy="339" r=".9"/><circle class="p" cx="186" cy="348.5" r=".9"/><circle class="p" cx="207" cy="334" r=".9"/></g>
<g id="n14-aboxes">
<rect class="bx" x="159" y="317" width="20" height="5"/><text x="169" y="320.2">agg_daily</text>
<rect class="bx" x="159" y="326" width="20" height="6"/><text x="169" y="329.7">agg_weekly</text>
<rect class="bx" x="159" y="336" width="20" height="6"/><text x="169" y="339.7">agg_monthly</text>
<rect class="bx" x="159" y="345" width="20" height="7"/><text x="169" y="347.9">Rolling window</text><text x="169" y="350.3">ds_v1.0</text>
<rect class="bx" x="159" y="357" width="20" height="6"/><text x="169" y="360.7">agg_lifetime</text>
</g>
<g id="n14-training"><rect class="ye" x="236" y="248" width="19" height="12" rx="3"/><text x="245.5" y="253">Model</text><text x="245.5" y="255.4">Training Job</text><circle class="p" cx="255" cy="254" r=".9"/></g>
<g id="n14-hp"><rect class="ye" x="236" y="282" width="18" height="10" rx=".5"/><text x="245" y="286.5">Hyper</text><text x="245" y="288.9">params</text></g>
<g id="n14-fork1"><rect class="bar" x="262" y="248" width="2" height="11"/><text class="l" x="266" y="250">train split</text><text class="l" x="266" y="255">validation split</text></g>
<g id="n14-train"><rect class="gy" x="263" y="283" width="22" height="8" rx=".5"/><text x="274" y="286.4">Distributed</text><text x="274" y="288.8">Trainer x8 GPU</text></g>
<g id="n14-eval"><rect class="gy" x="265" y="306" width="18" height="9" rx="3"/><text x="274" y="309.8">Evaluate</text><text x="274" y="312.2">Holdout</text></g>
<g id="n14-ckpt"><rect class="ye" x="267" y="333" width="15" height="9" rx=".5"/><text x="274.5" y="336.3">Checkpoint</text><text x="274.5" y="338.7">Selector</text><text x="274.5" y="341.1">v1</text><circle class="k" cx="255" cy="340" r="1.6"/></g>
<g id="n14-j1"><circle class="j" cx="274" cy="268" r=".9"/><circle class="j" cx="293" cy="268" r=".9"/><circle class="j" cx="293" cy="348" r=".9"/><circle class="j" cx="274" cy="348" r=".9"/><circle class="j" cx="281" cy="254" r=".9"/><circle class="j" cx="296" cy="254" r=".9"/></g>
<g id="n14-registry"><rect class="gr" x="332" y="246" width="20" height="14" rx="3"/><text x="342" y="251.5">Model</text><text x="342" y="253.9">Registry</text><text x="342" y="256.3">v2</text><circle class="p" cx="352" cy="253" r=".9"/><circle class="p" cx="332" cy="254" r=".9"/></g>
<g id="n14-fork2"><rect class="bar" x="359" y="259" width="2" height="18"/><text class="l" x="363" y="261">staging</text><text class="l" x="363" y="274">canary</text></g>
<g id="n14-stage"><rect class="gr" x="382" y="258" width="15" height="7" rx=".3"/><text x="389.5" y="262.2">Stage</text></g>
<g id="n14-canary"><rect class="gr" x="382" y="272" width="15" height="6" rx=".3"/><text x="389.5" y="275.7">Promote</text><circle class="p" cx="409" cy="261.5" r=".9"/></g>
<g id="n14-endpoint"><rect class="gr" x="420" y="250" width="17" height="7" rx=".3"/><text x="428.5" y="253">Model Serving</text><text x="428.5" y="255.4">v2.0</text></g>
<g id="n14-drift"><rect class="gr" x="313" y="282" width="19" height="9" rx="3"/><text x="322.5" y="285.8">Drift Monitor</text><text x="322.5" y="288.2">v1.0</text></g>
<g id="n14-perf"><rect class="gr" x="313" y="300" width="19" height="10" rx="3"/><text x="322.5" y="303.4">Performance</text><text x="322.5" y="305.8">Monitor</text><text x="322.5" y="308.2">v1.0</text></g>
<g id="n14-alert"><rect class="gr" x="342" y="325" width="18" height="10" rx="3"/><text x="351" y="329.4">Alert Router</text><text x="351" y="331.8">v1.0</text></g>
<g id="n14-retrain"><rect class="gr" x="380" y="306" width="20" height="10" rx="3"/><text x="390" y="310.4">Retrain</text><text x="390" y="312.8">Trigger</text><circle class="p" cx="380" cy="311" r=".9"/><circle class="p" cx="400" cy="311" r=".9"/></g>
<g id="n14-icon"><rect class="cy" x="376.5" y="332.5" width="4" height="3" rx=".6"/><text x="378" y="330.5">manual</text></g>
<g id="n14-lbl"><text x="336" y="284">drift</text><text x="336" y="295">perf</text><text x="340" y="312">accuracy drop</text><circle class="j" cx="349" cy="291" r=".8"/><circle class="j" cx="349" cy="296" r=".8"/><circle class="j" cx="349" cy="305" r=".8"/><circle class="j" cx="349" cy="314" r=".8"/></g>
<g id="n14-outs">
<rect class="bx" x="417" y="307" width="21" height="5"/><text x="427.5" y="310.2">ds_retrain_queue</text>
<rect class="bx" x="417" y="342" width="21" height="5"/><text x="427.5" y="345.2">ds_predictions</text>
<rect class="bx" x="417" y="352" width="21" height="5"/><text x="427.5" y="355.2">ds_model_metrics</text>
<rect class="bx" x="417" y="362" width="21" height="5"/><text x="427.5" y="365.2">ds_feature_stats</text>
<rect class="bx" x="417" y="372" width="21" height="5"/><text x="427.5" y="375.2">ds_alerts</text>
</g>

<!-- stage 1.5 nodes -->
<g id="n15-start"><circle class="k" cx="43" cy="412" r="1.6"/><circle class="j" cx="61" cy="412" r=".9"/><circle class="j" cx="100" cy="412" r=".9"/>
<rect x="59.5" y="418" width="3" height="4" rx=".8" fill="#f7d1a8" stroke="#d8a060" stroke-width=".4"/><text class="l" x="64" y="421">on dispatch start</text><text x="108" y="410.5">records</text></g>
<g id="n15-dispatch"><rect class="or" x="120" y="408" width="19" height="9" rx="3"/><text x="129.5" y="411.8">Enrichment</text><text x="129.5" y="414.2">Dispatcher</text><circle class="p" cx="139" cy="412.5" r=".9"/></g>
<g id="n15-ds"><rect class="bx" x="177" y="409" width="20" height="6"/><text x="187" y="412.7">ds_enrichment</text></g>
<g id="n15-geo"><rect class="or" x="148" y="422" width="20" height="8" rx="3"/><text x="158" y="425.5">Geo Enricher</text><text x="158" y="427.9">v1.2</text>
<rect x="156.5" y="446" width="3" height="4" rx=".8" fill="#f7d1a8" stroke="#d8a060" stroke-width=".4"/><text class="l" x="161" y="449">skip</text><text x="139" y="424.5">location</text></g>
<g id="n15-lookup"><rect class="or" x="120" y="452" width="19" height="8" rx=".5"/><text x="129.5" y="455.4">Lookup Tables</text><text x="129.5" y="457.8">v2.0</text></g>
<g id="n15-text"><rect class="or" x="148" y="464" width="20" height="9" rx="3"/><text x="158" y="467.8">Text Enricher</text><text x="158" y="470.2">v1.0</text><text x="139" y="466.5">content</text></g>
<g id="n15-j"><circle class="j" cx="129" cy="426" r=".9"/><circle class="j" cx="129" cy="436" r=".9"/><circle class="j" cx="129" cy="468" r=".9"/><circle class="j" cx="129" cy="490" r=".9"/><circle class="j" cx="100" cy="451" r=".9"/><text x="92" y="449">attrs</text><text x="92" y="505.5">rels</text></g>
<g id="n15-inA">
<rect class="bx" x="23" y="430" width="20" height="5"/><text x="33" y="433.2">Customer ds_v1.0</text>
<rect class="bx" x="23" y="437" width="20" height="6"/><text x="33" y="439.5">ds_address</text><text x="33" y="441.8">ds_v1.0</text>
<rect class="bx" x="23" y="444" width="20" height="6"/><text x="33" y="446.5">ds_products</text><text x="33" y="448.8">ds_v1.0</text>
<rect class="bx" x="23" y="453" width="20" height="5"/><text x="33" y="456.2">ds_organizations</text>
<rect class="bx" x="23" y="460" width="20" height="5"/><text x="33" y="463.2">ds_contacts</text>
<rect class="pu" x="18" y="468" width="25" height="4" rx=".3"/><text x="30.5" y="470.7">ds_reference</text>
<rect class="bx" x="23" y="475" width="20" height="5"/><text x="33" y="478.2">ds_taxonomy</text>
</g>
<g id="n15-attr"><rect class="or" x="65" y="428" width="20" height="57" rx="3"/><text x="75" y="454">Entity</text><text x="75" y="456.4">Attribute</text><text x="75" y="458.8">Enricher</text><text x="75" y="461.2">v2.1</text>
<circle class="p" cx="65" cy="432.5" r=".9"/><circle class="p" cx="65" cy="440" r=".9"/><circle class="p" cx="65" cy="447" r=".9"/><circle class="p" cx="65" cy="455.5" r=".9"/><circle class="p" cx="65" cy="462.5" r=".9"/><circle class="p" cx="65" cy="470" r=".9"/><circle class="p" cx="65" cy="477.5" r=".9"/><circle class="p" cx="85" cy="451" r=".9"/></g>
<g id="n15-inB">
<rect class="bx" x="23" y="497" width="20" height="6"/><text x="33" y="499.5">Customer</text><text x="33" y="501.8">ds_v1.0</text>
<rect class="bx" x="23" y="504" width="20" height="6"/><text x="33" y="506.5">ds_relations</text><text x="33" y="508.8">ds_v1.0</text>
<rect class="bx" x="23" y="512" width="20" height="6"/><text x="33" y="514.5">ds_hierarchy</text><text x="33" y="516.8">ds_v1.0</text>
<rect class="bx" x="23" y="520" width="20" height="5"/><text x="33" y="523.2">ds_ownership</text>
<rect class="bx" x="23" y="528" width="20" height="5"/><text x="33" y="531.2">ds_graph</text>
</g>
<g id="n15-rel"><rect class="or" x="65" y="497" width="20" height="40" rx="3"/><text x="75" y="515">Relationship</text><text x="75" y="517.4">Enricher</text><text x="75" y="519.8">v1.3</text>
<circle class="p" cx="65" cy="499.5" r=".9"/><circle class="p" cx="65" cy="506.5" r=".9"/><circle class="p" cx="65" cy="515" r=".9"/><circle class="p" cx="65" cy="522.5" r=".9"/><circle class="p" cx="65" cy="530.5" r=".9"/><circle class="p" cx="85" cy="507" r=".9"/></g>
<g id="n15-assembler"><rect class="or" x="120" y="497" width="18" height="40" rx="3"/><text x="129" y="515">Enriched</text><text x="129" y="517.4">Record</text><text x="129" y="519.8">Assembler</text>
<circle class="p" cx="138" cy="502" r=".9"/><circle class="p" cx="138" cy="508" r=".9"/><circle class="p" cx="138" cy="516" r=".9"/><circle class="p" cx="138" cy="523" r=".9"/><circle class="p" cx="138" cy="530" r=".9"/><text x="141" y="496">out</text></g>
<g id="n15-outs">
<rect class="or" x="173" y="496" width="27" height="6" rx=".3"/><text x="186.5" y="499.7">Enriched records</text>
<rect class="or" x="173" y="511" width="27" height="5" rx=".3"/><text x="186.5" y="512.9">ds_enriched</text><text x="186.5" y="515">v1.0</text>
<rect class="or" x="173" y="518" width="27" height="5" rx=".3"/><text x="186.5" y="519.9">ds_enriched_geo</text><text x="186.5" y="522">v1.0</text>
<rect class="or" x="173" y="525" width="27" height="5" rx=".3"/><text x="186.5" y="528.2">ds_enriched_text</text>
<rect class="or" x="173" y="534" width="27" height="5" rx=".3"/><text x="186.5" y="535.9">ds_enriched_rel</text><text x="186.5" y="538">v1.0</text>
</g>
<g id="n15-output"><rect class="or" x="142" y="546" width="15" height="6" rx=".3"/><text x="149.5" y="549.7">Output</text><circle class="k" cx="168" cy="549" r="1.6"/><circle class="j" cx="75" cy="549" r=".9"/></g>

<!-- stage 1.6 nodes -->
<g id="n16-start"><circle class="k" cx="233" cy="415" r="1.6"/></g>
<g id="n16-planner"><rect class="pk" x="255" y="413" width="18" height="9" rx="3"/><text x="264" y="416.8">Aggregation</text><text x="264" y="419.2">Planner v1</text><circle class="p" cx="273" cy="417" r=".9"/></g>
<g id="n16-l1"><text class="l" x="231" y="432" style="font-size:2.6px;font-weight:bold">Qu</text><rect class="pk" x="233" y="442" width="22" height="10" rx="3"/><text x="244" y="446.4">Daily Rollup</text><text x="244" y="448.8">v1.0</text></g>
<g id="n16-l2"><text class="l" x="231" y="460" style="font-size:2.6px;font-weight:bold">Qu</text><rect class="pk" x="233" y="470" width="22" height="8" rx="3"/><text x="244" y="473.4">Weekly Rollup</text><text x="244" y="475.8">v1.0</text></g>
<g id="n16-inputs">
<rect class="pk" x="216" y="492" width="19" height="5" rx=".3"/><text x="225.5" y="495.2">Enriched ds</text>
<rect class="pk" x="216" y="502" width="19" height="4" rx=".3"/><text x="225.5" y="504.7">Rules v1</text>
<rect class="bx" x="214" y="512" width="21" height="4"/><text x="224.5" y="514.7">ds_enriched</text>
<rect class="bx" x="214" y="518" width="21" height="5"/><text x="224.5" y="521.2">ds_enriched_geo</text>
<rect class="bx" x="214" y="525" width="21" height="5"/><text x="224.5" y="528.2">ds_enriched_text</text>
<rect class="bx" x="214" y="534" width="21" height="4"/><text x="224.5" y="536.7">ds_enriched_rel</text>
</g>
<g id="n16-registry"><rect class="bx" x="293" y="428" width="20" height="6"/><text x="303" y="431.7">ds_registry</text></g>
<g id="n16-shardA"><rect class="pk" x="293" y="450" width="20" height="10" rx="3"/><text x="303" y="454.4">Metric Calc</text><text x="303" y="456.8">Engine v2</text><circle class="k" cx="303" cy="449" r="1.3"/><text x="288" y="462">fallback</text></g>
<g id="n16-shardB"><rect class="pk" x="293" y="479" width="20" height="10" rx="3"/><text x="303" y="483.4">Segment Calc</text><text x="303" y="485.8">Engine v1</text><text x="288" y="491">fallback</text></g>
<g id="n16-merger"><rect class="pk" x="293" y="516" width="20" height="11" rx="3"/><text x="303" y="520">Result</text><text x="303" y="522.4">Merger</text><text x="303" y="524.8">v1.1</text></g>
<g id="n16-icons"><rect class="cy" x="290.5" y="467" width="4" height="3" rx=".6"/><rect class="cy" x="290.5" y="496" width="4" height="3" rx=".6"/></g>
<g id="n16-rank"><rect class="pk" x="323" y="508" width="12" height="7" rx=".3"/><text x="329" y="512.2">Rank</text></g>
<g id="n16-j"><circle class="j" cx="280" cy="447" r=".9"/><circle class="j" cx="280" cy="474" r=".9"/><circle class="j" cx="298" cy="417" r=".9"/><circle class="j" cx="338" cy="417" r=".9"/><circle class="j" cx="342" cy="449" r=".9"/><circle class="j" cx="280" cy="455" r=".9"/><circle class="j" cx="280" cy="484" r=".9"/><circle class="j" cx="280" cy="521" r=".9"/><circle class="j" cx="298" cy="540" r=".9"/><text x="322" y="425">metric_series</text><text x="322" y="533">merge_result</text></g>
<g id="n16-assembler"><rect class="gy" x="369" y="427" width="20" height="80" rx="3"/><text x="379" y="465">Aggregate</text><text x="379" y="467.4">Assembler v1</text>
<circle class="p" cx="369" cy="449" r=".9"/><circle class="p" cx="369" cy="466" r=".9"/><circle class="p" cx="369" cy="476" r=".9"/><circle class="p" cx="369" cy="488" r=".9"/>
<circle class="p" cx="389" cy="431.5" r=".9"/><circle class="p" cx="389" cy="440.5" r=".9"/><circle class="p" cx="389" cy="449.5" r=".9"/><circle class="p" cx="389" cy="457.5" r=".9"/><circle class="p" cx="389" cy="465" r=".9"/><circle class="p" cx="389" cy="472.5" r=".9"/><circle class="p" cx="389" cy="480.5" r=".9"/><circle class="p" cx="389" cy="489" r=".9"/><circle class="p" cx="389" cy="496.5" r=".9"/><circle class="p" cx="389" cy="503" r=".9"/></g>
<g id="n16-outs">
<rect class="bx" x="405" y="429" width="28" height="5"/><text x="419" y="432.2">Daily aggregate snapshot</text>
<rect class="or" x="405" y="438" width="28" height="5" rx=".3"/><text x="419" y="441.2">agg_daily_metrics</text>
<rect class="bx" x="405" y="447" width="28" height="5"/><text x="419" y="450.2">agg_kpis</text>
<rect class="bx" x="405" y="455" width="28" height="5"/><text x="419" y="458.2">agg_weekly_kpis</text>
<rect class="bx" x="405" y="463" width="28" height="4"/><text x="419" y="465.7">agg_segments</text>
<rect class="bx" x="405" y="470" width="28" height="5"/><text x="419" y="473.2">agg_cohorts</text>
<rect class="bx" x="405" y="478" width="28" height="5"/><text x="419" y="481.2">agg_funnel_v2_stage</text>
<rect class="bx" x="405" y="487" width="28" height="4"/><text x="419" y="489.7">agg_retention</text>
<rect class="bx" x="405" y="494" width="28" height="5"/><text x="419" y="497.2">agg_dashboard_feed</text>
<rect class="or" x="405" y="508" width="28" height="6" rx=".3"/><text x="419" y="511.7">agg_exceptions</text>
</g>
<g id="n16-emit"><rect class="pk" x="372" y="545" width="15" height="7" rx=".3"/><text x="379.5" y="549.2">Publish</text><circle class="k" cx="409" cy="548" r="1.6"/><circle class="k" cx="388" cy="516" r="1.2"/><text class="l" x="391" y="517">alert</text><text class="l" x="383" y="536">batch complete</text></g>

<!-- stage 1.7 nodes -->
<g id="n17-start"><circle class="k" cx="52" cy="595" r="1.6"/></g>
<g id="n17-j"><circle class="j" cx="52" cy="609" r=".8"/><circle class="j" cx="52" cy="617" r=".8"/><circle class="j" cx="52" cy="629" r=".8"/><circle class="j" cx="52" cy="637" r=".8"/><circle class="j" cx="52" cy="648" r=".8"/><circle class="j" cx="52" cy="657" r=".8"/><circle class="j" cx="52" cy="667.5" r=".8"/><circle class="j" cx="52" cy="676" r=".8"/><circle class="j" cx="52" cy="686.5" r=".8"/></g>
<g id="n17-a"><rect class="pk" x="70" y="605" width="22" height="8" rx="3"/><text x="81" y="609.7">Normalize v1.0</text></g>
<g id="n17-b"><rect class="pk" x="70" y="625" width="22" height="8" rx="3"/><text x="81" y="628.5">PII Scrubber</text><text x="81" y="630.9">v2.0</text></g>
<g id="n17-c"><rect class="pk" x="70" y="643" width="22" height="10" rx="3"/><text x="81" y="647.4">Compliance</text><text x="81" y="649.8">v1.1</text></g>
<g id="n17-d"><rect class="pk" x="70" y="663" width="22" height="9" rx="3"/><text x="81" y="666.8">Quality Checker</text><text x="81" y="669.2">v1.0</text></g>
<g id="n17-e"><rect class="pk" x="70" y="682" width="22" height="9" rx="3"/><text x="81" y="685.8">Schema Conform</text><text x="81" y="688.2">Formatter</text></g>
<g id="n17-f"><rect class="pk" x="70" y="701" width="22" height="9" rx="3"/><text x="81" y="704.8">Format Output</text><text x="81" y="707.2">by schema</text></g>
<g id="n17-g"><rect class="pk" x="70" y="720" width="22" height="9" rx="3"/><text x="81" y="723.8">Serialization</text><text x="81" y="726.2">v1.2</text></g>
<g id="n17-dedup"><rect class="pk" x="97" y="604" width="22" height="9" rx="3"/><text x="108" y="607.8">Deduplicate</text><text x="108" y="610.2">v1.0</text></g>
<g id="n17-top"><rect class="pk" x="166" y="591" width="22" height="7" rx=".3"/><text x="177" y="593.9">Compliance</text><text x="177" y="596.3">Rules v1.0</text></g>
<g id="n17-sort"><rect class="pk" x="132" y="630" width="15" height="7" rx=".3"/><text x="139.5" y="634.2">Sort</text><circle class="j" cx="122" cy="633" r=".8"/><circle class="j" cx="122" cy="622" r=".8"/><text class="l" x="115" y="619">sort ordering</text></g>
<g id="n17-writer"><rect class="gy" x="129" y="643" width="20" height="65" rx="3"/><text x="139" y="674.5">Final</text><text x="139" y="676.9">Output Writer</text>
<circle class="p" cx="149" cy="652.5" r=".9"/><circle class="p" cx="149" cy="661.5" r=".9"/><circle class="p" cx="149" cy="671.5" r=".9"/><circle class="p" cx="149" cy="680.5" r=".9"/><circle class="p" cx="149" cy="690.5" r=".9"/><circle class="p" cx="149" cy="700.5" r=".9"/></g>
<g id="n17-outs">
<rect class="bx" x="163" y="650" width="30" height="5"/><text x="178" y="653.2">ds_final_records</text>
<rect class="bx" x="163" y="659" width="30" height="5"/><text x="178" y="662.2">ds_final_entities</text>
<rect class="bx" x="163" y="669" width="30" height="5"/><text x="178" y="672.2">ds_final_metrics</text>
<rect class="bx" x="163" y="678" width="30" height="5"/><text x="178" y="681.2">ds_final_compliance</text>
<rect class="bx" x="163" y="688" width="30" height="5"/><text x="178" y="691.2">ds_final_quality_report</text>
<rect class="bx" x="163" y="698" width="30" height="5"/><text x="178" y="701.2">ds_final_audit_trail</text>
</g>
<g id="n17-emit"><rect class="pk" x="132" y="721" width="15" height="6" rx=".3"/><text x="139.5" y="724.7">Emit</text><circle class="k" cx="158" cy="724" r="1.6"/><circle class="k" cx="197" cy="721" r="1.6"/></g>
<g id="n17-ext"><rect class="bx" x="33" y="687" width="20" height="5"/><text x="43" y="690.2">Exceptions</text></g>

<!-- stage 1.8 nodes -->
<g id="n18-note"><path class="nt" d="M340,573 H372 L375,576 V580 H340 Z"/><text class="l" x="341" y="576">Search latency SLA 200ms</text><text class="l" x="341" y="578.4">at p99 percentile</text></g>
<g id="n18-top"><rect class="bx" x="318" y="585" width="19" height="4"/><text x="327.5" y="587.8">Search API</text></g>
<g id="n18-inputs">
<rect class="bx" x="209" y="606" width="14" height="5"/><text x="216" y="609.2">Query</text>
<rect class="bx" x="209" y="618" width="14" height="5"/><text x="216" y="621.2">Session</text>
<rect class="bx" x="209" y="640" width="12" height="5"/><text x="215" y="643.2">User</text>
<rect class="bx" x="209" y="654" width="14" height="5"/><text x="216" y="657.2">Profile</text>
<rect class="bx" x="209" y="665" width="14" height="5"/><text x="216" y="668.2">History</text>
<rect class="bx" x="209" y="692" width="14" height="5"/><text x="216" y="695.2">Index</text>
<text class="l" x="220" y="650">no user provided</text>
</g>
<g id="n18-qu"><rect class="wh" x="236" y="603" width="19" height="20" rx="3"/><text x="245.5" y="611.5">Query</text><text x="245.5" y="613.9">Understanding</text><text x="245.5" y="616.3">v2.0</text>
<circle class="p" cx="236" cy="608.5" r=".9"/><circle class="p" cx="236" cy="620.5" r=".9"/><circle class="p" cx="255" cy="613" r=".9"/><circle class="p" cx="245" cy="603" r=".9"/><text x="265" y="611.5">single intent</text></g>
<g id="n18-spell"><rect class="bx" x="265" y="630" width="17" height="6"/><text x="273.5" y="633.7">Spell Fix</text><text x="250" y="631.5">typos</text></g>
<g id="n18-intent"><rect class="wh" x="236" y="645" width="19" height="32" rx="3"/><text x="245.5" y="659.5">Intent</text><text x="245.5" y="661.9">Classifier</text><text x="245.5" y="664.3">v1.3</text>
<circle class="p" cx="236" cy="656.5" r=".9"/><circle class="p" cx="236" cy="667.5" r=".9"/><circle class="p" cx="245" cy="677" r=".9"/></g>
<g id="n18-plan"><rect class="wh" x="236" y="689" width="19" height="12" rx="3"/><text x="245.5" y="694">Retrieval</text><text x="245.5" y="696.4">Planner v1</text><circle class="p" cx="236" cy="694.5" r=".9"/></g>
<g id="n18-fetch"><rect class="bx" x="237" y="707" width="17" height="6"/><text x="245.5" y="710.7">Fetch Docs</text></g>
<g id="n18-pool"><rect class="wh" x="237" y="719" width="18" height="10" rx="3"/><text x="246" y="723.4">Candidate</text><text x="246" y="725.8">Pool</text><circle class="p" cx="237" cy="724" r=".9"/></g>
<g id="n18-hybrid"><rect class="wh" x="310" y="605" width="23" height="8" rx="3"/><text x="321.5" y="608.5">Hybrid</text><text x="321.5" y="610.9">Search v2</text><circle class="p" cx="310" cy="609" r=".9"/></g>
<g id="n18-rerank"><rect class="bx" x="312" y="620" width="18" height="7"/><text x="321" y="624.2">Rerank</text></g>
<g id="n18-m1"><rect class="wh" x="302" y="642" width="16" height="12" rx="3"/><text x="310" y="646.5">Lexical</text><text x="310" y="648.9">Scorer</text><text x="310" y="651.3">v1.0</text></g>
<g id="n18-m2"><rect class="wh" x="322" y="642" width="18" height="12" rx="3"/><text x="331" y="646.5">Semantic</text><text x="331" y="648.9">Scorer</text><text x="331" y="651.3">v2.0</text><circle class="p" cx="340" cy="648" r=".9"/></g>
<g id="n18-m3"><rect class="wh" x="300" y="680" width="15" height="12" rx="3"/><text x="307.5" y="685.3">Personalize</text><text x="307.5" y="687.7">v1.0</text><circle class="p" cx="307" cy="680" r=".9"/></g>
<g id="n18-m4"><rect class="wh" x="318" y="680" width="20" height="12" rx="3"/><text x="328" y="685.3">Diversify</text><text x="328" y="687.7">v1.0</text><circle class="p" cx="328" cy="680" r=".9"/></g>
<g id="n18-j"><circle class="j" cx="321" cy="636" r=".8"/><circle class="j" cx="321" cy="662" r=".8"/><circle class="j" cx="321" cy="674" r=".8"/><circle class="j" cx="321" cy="699" r=".8"/><circle class="j" cx="274" cy="613" r=".8"/><circle class="j" cx="284" cy="613" r=".8"/><circle class="j" cx="274" cy="633" r=".8"/><circle class="j" cx="274" cy="731.5" r=".8"/><circle class="j" cx="245" cy="633" r=".8"/><circle class="j" cx="381" cy="650" r=".8"/><circle class="j" cx="381" cy="660" r=".8"/><circle class="j" cx="381" cy="698" r=".8"/><circle class="j" cx="381" cy="612" r=".8"/></g>
<g id="n18-filter"><rect class="bx" x="313" y="705" width="18" height="7"/><text x="322" y="709.2">Filter Results</text></g>
<g id="n18-page"><rect class="wh" x="313" y="717" width="18" height="7" rx="2.5"/><text x="322" y="719.9">Paginate</text><text x="322" y="722.3">v1.0</text><circle class="p" cx="331" cy="721" r=".9"/></g>
<g id="n18-resp"><rect class="bx" x="312" y="728" width="16" height="7"/><text x="320" y="732.2">Results 1-n</text></g>
<g id="n18-dots"><circle class="k" cx="350" cy="731.5" r="1.3"/><circle class="k" cx="353" cy="731.5" r="1.3"/><text class="l" x="290" y="730">ranked</text></g>
<g id="n18-cache"><rect class="wh" x="372" y="596" width="18" height="9" rx="3"/><text x="381" y="599.8">Result</text><text x="381" y="602.2">Cache v1</text><circle class="p" cx="372" cy="600" r=".9"/><circle class="p" cx="390" cy="600" r=".9"/></g>
<g id="n18-r1"><rect class="bx" x="389" y="620" width="19" height="7"/><text x="398.5" y="624.2">Cache Lookup</text></g>
<g id="n18-r2"><rect class="wh" x="389" y="633" width="19" height="9" rx="3"/><text x="398.5" y="636.8">Hit Validation</text><text x="398.5" y="639.2">v1.0</text></g>
<g id="n18-r3"><rect class="wh" x="389" y="667" width="19" height="9" rx="3"/><text x="398.5" y="670.8">Invalidation</text><text x="398.5" y="673.2">Policy</text></g>
<g id="n18-r4"><rect class="wh" x="389" y="682" width="19" height="8" rx="3"/><text x="398.5" y="685.4">Warmup</text><text x="398.5" y="687.8">Scheduler</text><text class="l" x="372" y="663">miss</text></g>
<g id="n18-rnote"><path class="nt" d="M383,702 H405 L408,705 V717 H383 Z"/><text class="l" x="384" y="705.5">Cache entries expire</text><text class="l" x="384" y="708">after 15 minutes or</text><text class="l" x="384" y="710.5">on index refresh</text><text class="l" x="384" y="713">events from 1.3</text></g>
<g id="n18-log"><rect class="bx" x="367" y="728" width="15" height="7"/><text x="374.5" y="732.2">Log Query</text></g>
<g id="n18-ext"><rect class="bx" x="412" y="598" width="10" height="5"/><text x="417" y="601.2">Metrics</text></g>

<!-- stage 1.9 glossary -->
<g id="n19-pills">
<rect class="gy" x="450" y="577" width="25" height="9" rx="3"/><text x="462.5" y="580.8">Stage 1.1 Data</text><text x="462.5" y="583.2">Ingestion</text>
<rect class="gy" x="450" y="588" width="25" height="9" rx="3"/><text x="462.5" y="591.8">Stage 1.2 Entity</text><text x="462.5" y="594.2">Resolution</text>
<rect class="gy" x="450" y="599" width="25" height="9" rx="3"/><text x="462.5" y="602.8">Stage 1.3</text><text x="462.5" y="605.2">Indexing</text>
<rect class="gy" x="450" y="609" width="25" height="11" rx="3"/><text x="462.5" y="612.8">Stage 1.4 Feature</text><text x="462.5" y="615.2">Processing and</text><text x="462.5" y="617.6">Training</text>
<rect class="gy" x="450" y="621" width="25" height="8" rx="3"/><text x="462.5" y="624.4">Stage 1.5</text><text x="462.5" y="626.8">Enrichment</text>
<rect class="gy" x="450" y="630" width="25" height="9" rx="3"/><text x="462.5" y="633.8">Stage 1.6</text><text x="462.5" y="636.2">Aggregation</text>
<rect class="gy" x="450" y="640" width="25" height="9" rx="3"/><text x="462.5" y="643.8">Stage 1.7 Post</text><text x="462.5" y="646.2">Processing</text>
<rect class="gy" x="450" y="650" width="25" height="9" rx="3"/><text x="462.5" y="653.8">Stage 1.8</text><text x="462.5" y="656.2">Search</text>
<rect class="gy" x="450" y="660" width="25" height="9" rx="3"/><text x="462.5" y="663.8">Dataset</text><text x="462.5" y="666.2">ds_v1.0</text>
<rect class="gy" x="450" y="670" width="25" height="9" rx="3"/><text x="462.5" y="673.8">Model</text><text x="462.5" y="676.2">Component</text>
<rect class="gy" x="450" y="680" width="25" height="9" rx="3"/><text x="462.5" y="683.8">Index</text><text x="462.5" y="686.2">Artifact</text>
<rect class="gy" x="450" y="690" width="25" height="9" rx="3"/><text x="462.5" y="693.8">Fork and</text><text x="462.5" y="696.2">Join Bar</text>
<rect class="gy" x="450" y="700" width="25" height="9" rx="3"/><text x="462.5" y="703.8">Decision</text><text x="462.5" y="706.2">Junction</text>
<rect class="gy" x="450" y="710" width="25" height="9" rx="3"/><text x="462.5" y="713.8">Start and</text><text x="462.5" y="716.2">End State</text>
<rect class="gy" x="450" y="720" width="25" height="9" rx="3"/><text x="462.5" y="723.8">Note</text><text x="462.5" y="726.2">Annotation</text>
<rect class="gy" x="450" y="730" width="25" height="9" rx="3"/><text x="462.5" y="733.8">External</text><text x="462.5" y="736.2">Reference</text>
</g>
<g id="n19-legend">
<rect class="bx" x="428" y="640" width="15" height="5"/><text x="435.5" y="643.2">Pipeline</text>
<rect class="bx" x="428" y="649" width="15" height="4"/><text x="435.5" y="651.7">Stage 1.x</text>
<rect class="bx" x="428" y="656" width="15" height="4"/><text x="435.5" y="658.7">Flow</text>
<rect class="bx" x="428" y="663" width="15" height="4"/><text x="435.5" y="665.7">Control flow</text>
<rect class="bx" x="428" y="670" width="15" height="4"/><text x="435.5" y="672.7">Data flow / writes</text>
<rect class="bx" x="428" y="677" width="15" height="4"/><text x="435.5" y="679.7">Dataset</text>
<rect class="bx" x="428" y="684" width="15" height="4"/><text x="435.5" y="686.7">Component</text>
<rect class="bx" x="428" y="691" width="15" height="4"/><text x="435.5" y="693.7">Stage</text>
<rect class="bx" x="428" y="698" width="15" height="4"/><text x="435.5" y="700.7">Output dataset</text>
<rect class="bx" x="428" y="705" width="15" height="4"/><text x="435.5" y="707.7">Subprocess</text>
<path class="e" d="M435.5,645 V649 M435.5,653 V656 M435.5,660 V663 M435.5,667 V670 M435.5,674 V677 M435.5,681 V684 M435.5,688 V691 M435.5,695 V698 M435.5,702 V705"/>
</g>
</svg>
